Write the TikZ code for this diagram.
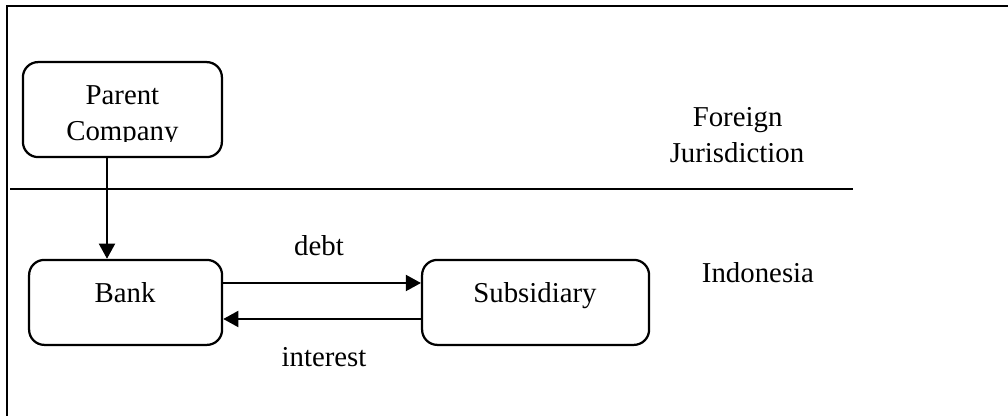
\documentclass[tikz,border=0pt]{standalone}
\usepackage{fontspec}
\setmainfont{Liberation Serif}
\usetikzlibrary{arrows.meta}

\begin{document}
\begin{tikzpicture}[
    box/.style={draw, line width=1.6pt, rounded corners=0.38cm, inner sep=0pt},
    lbl/.style={anchor=base, inner sep=0pt, font=\fontsize{20.5}{24}\selectfont},
    flow/.style={line width=1.6pt, -{Triangle[length=0.38cm,width=0.4cm]}}
]
    \useasboundingbox (0,0) rectangle (25.2,10.4);
    \draw[line width=1.5pt] (0.175,0) -- (0.175,10.25) -- (25.2,10.25); % the frame
    \node[box, minimum width=4.975cm, minimum height=2.375cm] (parent) at (3.06,7.66) {};
    \node[box, minimum width=4.825cm, minimum height=2.125cm] (bank) at (3.14,2.84) {};
    \node[box, minimum width=5.675cm, minimum height=2.125cm] (sub) at (13.39,2.84) {};
    \node[lbl] (parenttxt) at (3.06,7.775) {Parent};
    \begin{scope}
        \clip (0.6,6.86) rectangle (5.5,7.6);
        \node[lbl] (companytxt) at (3.06,6.875) {Company};
    \end{scope}
    \node[lbl] (banktxt) at (3.125,2.825) {Bank};
    \node[lbl] (subtxt) at (13.375,2.825) {Subsidiary};
    \draw[line width=1.5pt] (0.25,5.675) -- (21.325,5.675); % border between jurisdictions
    \node[lbl] (foreign) at (18.44,7.225) {Foreign};
    \node[lbl] (juris) at (18.425,6.325) {Jurisdiction};
    \node[lbl] (indonesia) at (18.95,3.325) {Indonesia};
    \draw[flow] ([xshift=-0.385cm]parent.south) -- ([xshift=-0.385cm]parent.south |- bank.north);
    \draw[flow] ([yshift=0.485cm]bank.east) -- ([yshift=0.485cm]sub.west);
    \draw[flow] ([yshift=-0.415cm]sub.west) -- ([yshift=-0.415cm]bank.east);
    \begin{scope}
        \clip (6.5,3.99) rectangle (9.5,4.8);
        \node[lbl] (debt) at (7.975,4.0) {debt};
    \end{scope}
    \node[lbl] (interest) at (8.1,1.225) {interest};
\end{tikzpicture}
\end{document}
